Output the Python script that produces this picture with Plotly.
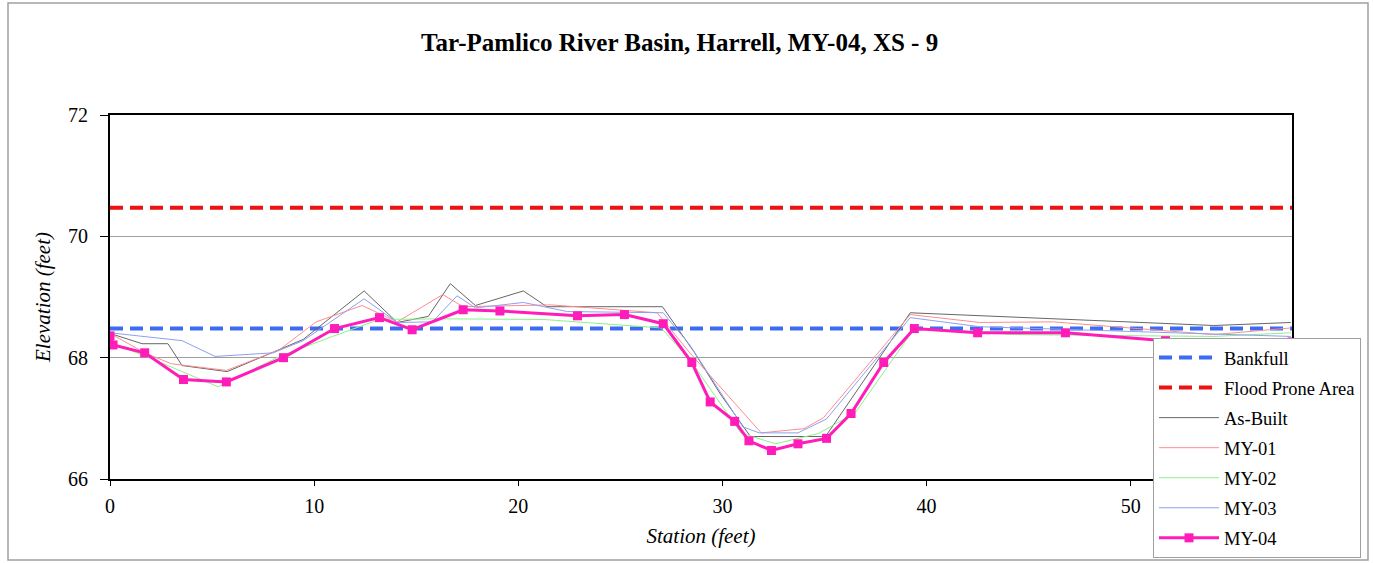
import plotly.graph_objects as go

# ---- data ----
bankfull_elev = 68.48
flood_elev = 70.47
x_extent = [0, 57.9]

asbuilt_x = [0, 1.57, 2.84, 3.53, 5.74, 9.46, 12.45, 14.07, 15.59, 16.67, 17.9, 20.25, 21.4, 27.06, 28.6, 29.9, 31.37, 35.05, 39.2, 46.9, 54.07, 57.84]
asbuilt_y = [68.40, 68.23, 68.23, 67.87, 67.77, 68.30, 69.10, 68.58, 68.68, 69.22, 68.86, 69.10, 68.84, 68.84, 68.10, 67.40, 66.70, 66.70, 68.74, 68.63, 68.53, 68.58]

my01_x = [0, 1.7, 3.0, 5.7, 8.3, 10.1, 12.35, 14.07, 16.3, 17.3, 21.6, 26.8, 28.4, 31.9, 34.0, 34.95, 39.2, 42.6, 46.2, 54.07, 57.84]
my01_y = [68.40, 68.08, 67.90, 67.79, 68.13, 68.59, 68.86, 68.59, 69.04, 68.84, 68.87, 68.74, 68.08, 66.76, 66.83, 67.01, 68.71, 68.58, 68.59, 68.38, 68.49]

my02_x = [0, 1.7, 5.3, 8.3, 10.9, 13.2, 16.3, 21.2, 27.0, 28.4, 30.9, 32.6, 34.7, 36.5, 39.4, 44.3, 54.07, 57.84]
my02_y = [68.25, 68.03, 67.52, 68.02, 68.35, 68.63, 68.64, 68.63, 68.49, 67.97, 66.76, 66.58, 66.75, 67.09, 68.48, 68.38, 68.35, 68.41]

my03_x = [0, 3.53, 5.15, 8.0, 9.46, 12.45, 14.07, 15.8, 17.0, 17.9, 20.25, 22.4, 27.1, 28.4, 31.0, 31.8, 33.7, 35.1, 39.2, 42.6, 57.84]
my03_y = [68.41, 68.28, 68.02, 68.08, 68.28, 68.97, 68.58, 68.59, 69.02, 68.82, 68.91, 68.76, 68.74, 68.21, 66.86, 66.76, 66.76, 66.99, 68.66, 68.51, 68.35]

my04_x = [0, 0.15, 1.7, 3.6, 5.7, 8.5, 11.0, 13.2, 14.8, 17.3, 19.1, 22.9, 25.2, 27.1, 28.5, 29.4, 30.6, 31.3, 32.4, 33.7, 35.1, 36.3, 37.9, 39.4, 42.5, 46.8, 51.7, 57.9]
my04_y = [68.36, 68.21, 68.08, 67.64, 67.60, 68.00, 68.48, 68.66, 68.46, 68.79, 68.77, 68.69, 68.71, 68.56, 67.92, 67.27, 66.95, 66.63, 66.47, 66.58, 66.67, 67.08, 67.92, 68.48, 68.41, 68.41, 68.28, 68.26]

title_text = "Tar-Pamlico River Basin, Harrell, MY-04, XS - 9"
x_title = "Station (feet)"
y_title = "Elevation (feet)"

FONT = "Liberation Serif, Times New Roman, serif"

fig = go.Figure()
fig.add_trace(go.Scatter(x=x_extent, y=[bankfull_elev] * 2, mode="lines", name="Bankfull", legendgroup="g1",
                         line=dict(color="#3D6CF2", width=4, dash="13px,7px")))
fig.add_trace(go.Scatter(x=x_extent, y=[flood_elev] * 2, mode="lines", name="Flood Prone Area", legendgroup="g2",
                         line=dict(color="#EE1111", width=4, dash="13px,7px")))
fig.add_trace(go.Scatter(x=asbuilt_x, y=asbuilt_y, mode="lines", name="As-Built", legendgroup="g3",
                         line=dict(color="#666666", width=1)))
fig.add_trace(go.Scatter(x=my01_x, y=my01_y, mode="lines", name="MY-01", legendgroup="g4",
                         line=dict(color="#FF8C8C", width=1)))
fig.add_trace(go.Scatter(x=my02_x, y=my02_y, mode="lines", name="MY-02", legendgroup="g5",
                         line=dict(color="#8CF08C", width=1)))
fig.add_trace(go.Scatter(x=my03_x, y=my03_y, mode="lines", name="MY-03", legendgroup="g6",
                         line=dict(color="#8CA0F0", width=1)))
fig.add_trace(go.Scatter(x=my04_x, y=my04_y, mode="lines+markers", name="MY-04", legendgroup="g7",
                         line=dict(color="#FF1CB8", width=3),
                         marker=dict(symbol="square", size=9, color="#FF1CB8")))

L, R, T, B = 110, 1292, 115, 479
W, H = 1373, 563
pw, ph = R - L, B - T

def px2paper_x(px):
    return (px - L) / pw

def px2paper_y(py):
    return (B - py) / ph

fig.add_shape(type="rect", xref="paper", yref="paper",
              x0=px2paper_x(8), x1=px2paper_x(1368), y0=px2paper_y(560), y1=px2paper_y(3),
              line=dict(color="#A0A0A0", width=1.5), layer="below")

fig.update_layout(
    width=W, height=H,
    margin=dict(l=L, r=W - R, t=T, b=H - B, pad=0, autoexpand=False),
    paper_bgcolor="white", plot_bgcolor="white",
    font=dict(family=FONT, color="black", size=20),
    title=dict(text="<b>" + title_text + "</b>", x=0.495, xref="container", xanchor="center",
               y=1 - 42 / H, yref="container", yanchor="middle",
               font=dict(family=FONT, size=25, color="black")),
    showlegend=True,
    legend=dict(x=px2paper_x(1153), y=px2paper_y(338), xanchor="left", yanchor="top",
                bgcolor="white", bordercolor="#A0A0A0", borderwidth=1,
                font=dict(family=FONT, size=18.5, color="black"),
                tracegroupgap=3, itemwidth=60),
)
fig.update_xaxes(range=x_extent, tickvals=[0, 10, 20, 30, 40, 50], showgrid=False, automargin=False,
                 showline=True, mirror=True, linecolor="black", linewidth=2,
                 ticks="outside", ticklen=5, tickcolor="black", ticklabelstandoff=3,
                 tickfont=dict(family=FONT, size=20),
                 title=dict(text="<i>" + x_title + "</i>", font=dict(family=FONT, size=21), standoff=12),
                 zeroline=False)
fig.update_yaxes(range=[66, 72], tickvals=[66, 68, 70, 72], showgrid=True, gridcolor="#A0A0A0", gridwidth=1,
                 automargin=False,
                 showline=True, mirror=True, linecolor="black", linewidth=2,
                 ticks="outside", ticklen=8, tickcolor="black", ticklabelstandoff=8,
                 tickfont=dict(family=FONT, size=20),
                 title=dict(text="<i>" + y_title + "</i>", font=dict(family=FONT, size=21), standoff=12),
                 zeroline=False)

fig.write_html("out.html", config={"displayModeBar": False},
               post_script="document.body.style.margin='0';document.body.style.padding='0';")
